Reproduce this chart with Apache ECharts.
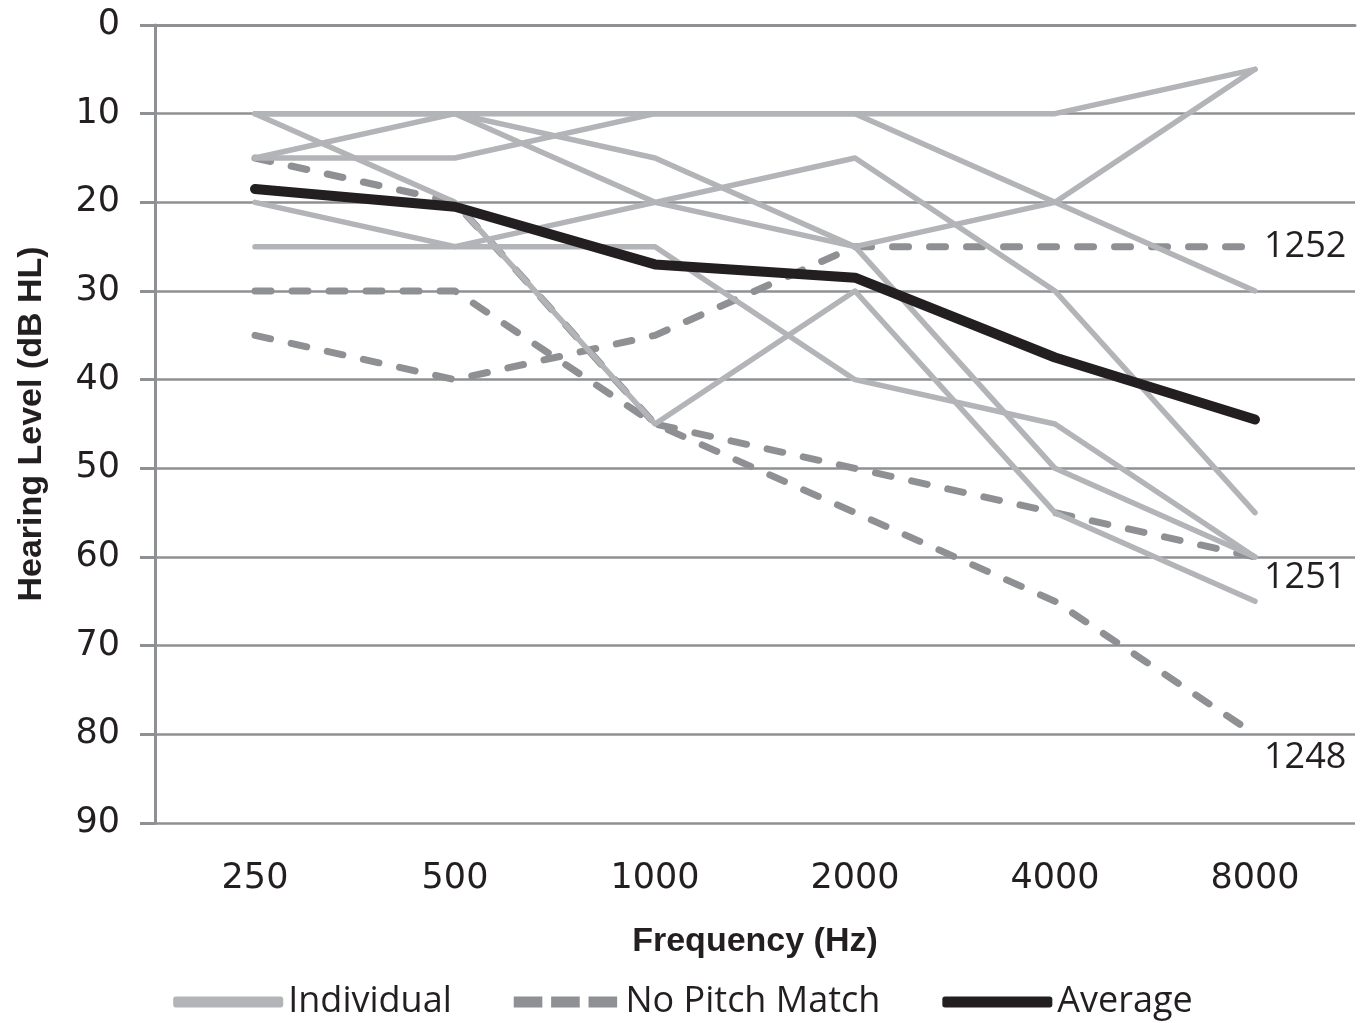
<!DOCTYPE html>
<html>
<head>
<meta charset="utf-8">
<script src="https://cdn.jsdelivr.net/npm/echarts@6/dist/echarts.min.js"></script>
<style>
  html, body { margin: 0; padding: 0; background: #fff; }
  #hearing-chart { width: 1366px; height: 1023px; }
</style>
</head>
<body>
<div id="hearing-chart"></div>
<script>
// frequencies (Hz) and hearing levels (dB HL)
const categories = ['250', '500', '1000', '2000', '4000', '8000'];

const individual1 = [10, 10, 10, 10, 10, 5];
const individual2 = [15, 15, 10, 10, 20, 30];
const individual3 = [15, 10, 15, 25, 20, 5];
const individual4 = [10, 10, 20, 25, 50, 60];
const individual5 = [10, 20, 45, 30, 55, 65];
const individual6 = [20, 25, 20, 15, 30, 55];
const individual7 = [25, 25, 25, 40, 45, 60];

const noPitch1252 = [35, 40, 35, 25, 25, 25];
const noPitch1251 = [30, 30, 45, 50, 55, 60];
const noPitch1248 = [15, 20, 45, 55, 65, 80];

const average = [18.5, 20.5, 27, 28.5, 37.5, 44.5];

const yTicks = [0, 90, 10]; // min, max, interval

let myChart = echarts.init(document.getElementById('hearing-chart'));

const gridColor = '#8e9093';
const textColor = '#231f20';
const lightGray = '#b2b4b7';
const midGray = '#8e9093';

function individualSeries(data) {
  return {
    name: 'Individual',
    type: 'line',
    data: data,
    symbol: 'none',
    z: 3,
    itemStyle: { color: lightGray },
    lineStyle: { color: lightGray, width: 5.5, cap: 'round', join: 'round' }
  };
}

function noPitchSeries(data, id, dy) {
  return {
    name: 'No Pitch Match',
    type: 'line',
    data: data,
    symbol: 'none',
    z: 2,
    itemStyle: { color: midGray },
    lineStyle: { color: midGray, width: 7, type: [16, 21], cap: 'round', join: 'round' },
    endLabel: {
      show: true,
      formatter: id,
      color: textColor,
      fontFamily: 'Open Sans',
      fontSize: 36,
      distance: 9,
      offset: [0, dy]
    }
  };
}

let option = {
  animation: false,
  grid: { left: 155, right: 11, top: 25, bottom: 200 },
  legend: {
    data: [
      { name: 'Individual', icon: 'roundRect' },
      { name: 'No Pitch Match', icon: 'path://M0,0h26v10h-26z M34,0h26v10h-26z M68,0h26v10h-26z' },
      { name: 'Average', icon: 'roundRect' }
    ],
    bottom: -2,
    left: 'center',
    itemWidth: 110,
    itemHeight: 11,
    itemGap: 62,
    textStyle: { color: textColor, fontFamily: 'Open Sans', fontSize: 36 }
  },
  xAxis: {
    type: 'category',
    data: categories,
    boundaryGap: true,
    name: 'Frequency (Hz)',
    nameLocation: 'middle',
    nameGap: 102,
    nameTextStyle: { color: textColor, fontFamily: 'Liberation Sans', fontWeight: 'bold', fontSize: 34 },
    axisLine: { lineStyle: { color: gridColor, width: 3 } },
    axisTick: { show: false },
    axisLabel: { color: textColor, fontFamily: 'DejaVu Sans', fontSize: 35, margin: 38 },
    splitLine: { show: false }
  },
  yAxis: {
    type: 'value',
    inverse: true,
    min: yTicks[0],
    max: yTicks[1],
    interval: yTicks[2],
    name: 'Hearing Level (dB HL)',
    nameLocation: 'middle',
    nameGap: 106,
    nameTextStyle: { color: textColor, fontFamily: 'Liberation Sans', fontWeight: 'bold', fontSize: 34 },
    axisLine: { show: true, lineStyle: { color: gridColor, width: 3 } },
    axisTick: { show: true, length: 15, lineStyle: { color: gridColor, width: 3 } },
    axisLabel: { color: textColor, fontFamily: 'DejaVu Sans', fontSize: 35, margin: 35 },
    splitLine: { show: true, lineStyle: { color: gridColor, width: 2.5 } }
  },
  series: [
    noPitchSeries(noPitch1252, '1252', 0),
    noPitchSeries(noPitch1251, '1251', 21),
    noPitchSeries(noPitch1248, '1248', 23),
    individualSeries(individual1),
    individualSeries(individual2),
    individualSeries(individual3),
    individualSeries(individual4),
    individualSeries(individual5),
    individualSeries(individual6),
    individualSeries(individual7),
    {
      name: 'Average',
      type: 'line',
      data: average,
      symbol: 'none',
      z: 4,
      itemStyle: { color: '#231f20' },
      lineStyle: { color: '#231f20', width: 10, cap: 'round', join: 'round' }
    }
  ]
};
myChart.setOption(option);

window.addEventListener('resize', function () {
  myChart.resize();
});
</script>
</body>
</html>
